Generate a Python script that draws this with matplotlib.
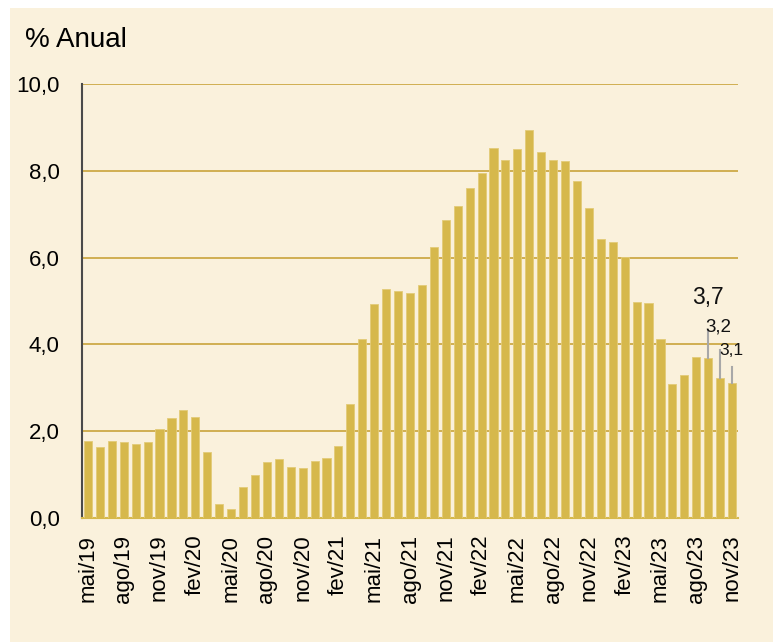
import matplotlib
matplotlib.use("Agg")
import matplotlib.pyplot as plt
from matplotlib.patches import Rectangle

plt.rcParams['font.family'] = ['Liberation Sans', 'DejaVu Sans']

# monthly series, mai/19 .. nov/23 (% anual)
values = [1.77, 1.64, 1.77, 1.74, 1.70, 1.75, 2.05, 2.30, 2.49, 2.33,
          1.53, 0.33, 0.21, 0.71, 1.00, 1.29, 1.36, 1.17, 1.15, 1.31,
          1.38, 1.67, 2.62, 4.12, 4.92, 5.28, 5.22, 5.18, 5.38, 6.24,
          6.87, 7.20, 7.60, 7.96, 8.53, 8.24, 8.51, 8.94, 8.43, 8.24,
          8.22, 7.76, 7.14, 6.44, 6.35, 6.01, 4.98, 4.96, 4.12, 3.09,
          3.30, 3.70, 3.69, 3.23, 3.12]
tick_labels = ["mai/19", "ago/19", "nov/19", "fev/20", "mai/20", "ago/20",
               "nov/20", "fev/21", "mai/21", "ago/21", "nov/21", "fev/22",
               "mai/22", "ago/22", "nov/22", "fev/23", "mai/23", "ago/23",
               "nov/23"]
# last three bars labelled
label_idx = [52, 53, 54]
label_txt = ["3,7", "3,2", "3,1"]

BG = "#FAF1DC"
BAR = "#D6B84C"
GRID = "#C9A43A"

fig = plt.figure(figsize=(7.73, 6.42), dpi=100, facecolor="white")
fig.patches.append(Rectangle((10 / 773, 0), 1 - 10 / 773, 1 - 8 / 642,
                             transform=fig.transFigure, facecolor=BG,
                             edgecolor="none", zorder=-10))
ax = fig.add_axes([82 / 773, 124 / 642, 656 / 773, 434 / 642])
ax.set_facecolor(BG)

x = list(range(len(values)))
ax.bar(x, values, width=0.68, color=BAR, edgecolor="#E3CB78", linewidth=0.6, zorder=3)

ax.set_xlim(-0.5, len(values) - 0.5)
ax.set_ylim(0, 10)
ax.set_yticks([0, 2, 4, 6, 8, 10])
ax.set_yticklabels(["0,0", "2,0", "4,0", "6,0", "8,0", "10,0"], fontsize=16)
ax.set_xticks(x[::3])
ax.set_xticklabels(tick_labels, rotation=90, fontsize=16)
ax.tick_params(axis="y", length=0, pad=16)
ax.tick_params(axis="x", length=0, pad=12)
ax.yaxis.grid(True, color=GRID, linewidth=1.2, zorder=0)
ax.set_axisbelow(True)

for s in ["top", "right"]:
    ax.spines[s].set_visible(False)
ax.spines["left"].set_color("#4A4A4A")
ax.spines["left"].set_linewidth(1.5)
ax.spines["bottom"].set_color(BAR)
ax.spines["bottom"].set_linewidth(1.5)

# data labels with leader lines
line_top = [4.33, 3.87, 3.49]
text_pos = [(51.95, 5.07, 16.5), (52.85, 4.40, 13.5), (53.95, 3.85, 12.5)]
for i, lt, (tx, ty, fs), t in zip(label_idx, line_top, text_pos, label_txt):
    ax.plot([i, i], [values[i], lt], color="#A8A8A8", linewidth=1.5, zorder=4)
    ax.text(tx, ty, t, ha="center", va="center", fontsize=fs, color="#111111", zorder=5)

fig.text(25 / 773, 1 - 40 / 642, "% Anual", fontsize=20, ha="left", va="center")

fig.savefig("out.png", dpi=100, facecolor=fig.get_facecolor())
